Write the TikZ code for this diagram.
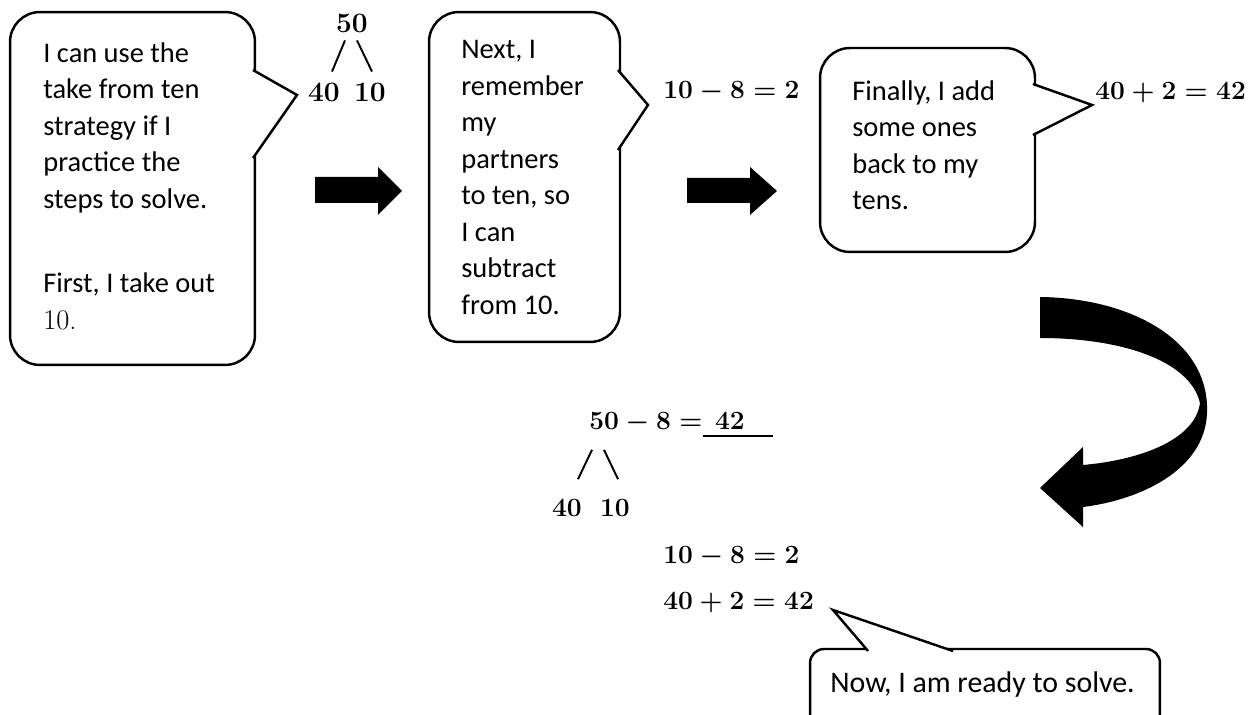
\RequirePackage{fix-cm}
\documentclass[tikz,border=0pt]{standalone}
\usepackage{fontspec}
\newfontfamily\calibri{Carlito}
\usetikzlibrary{calc}

\begin{document}
\begin{tikzpicture}[
    x=0.02cm, y=-0.02cm,
    bubble/.style={rectangle, draw=black, line width=1.4pt, fill=white,
                rounded corners=0.6cm, outer sep=0pt, inner sep=0pt},
    tail/.style={draw=black, line width=1.4pt, fill=white, line join=miter},
    say/.style={anchor=north west, align=left, inner sep=0pt,
                font=\calibri\fontsize{16.2}{20.8}\selectfont},
    num/.style={inner sep=0pt, font=\fontsize{15}{18}\selectfont\boldmath},
    bignum/.style={num, font=\fontsize{16}{19}\selectfont\boldmath},
    branch/.style={line width=1.1pt}
]
    \path[use as bounding box, fill=white] (0,0) rectangle (1255,715);
    \clip (0,0) rectangle (1255,715);

    % take out ten
    \node[bubble, minimum width=4.9cm, minimum height=7.06cm] (box1) at (132.5,188.5) {};
    \coordinate (tip1) at (297,95);
    \draw[tail] ($(box1.north east)+(-2,58)$) -- (tip1) -- ($(box1.north east)+(-2,146)$);
    \node[say] (say1) at (43,42) {I can use the\\take from ten\\strategy if I\\practice the\\steps to solve.\\[27.4pt]First, I take out\\{\rmfamily 10.}};

    \node[bignum] (t50) at (352,23) {$50$};
    \node[bignum] (t40) at (324,92) {$40$};
    \node[bignum] (t10) at (370,92) {$10$};
    \draw[branch] ($(t50.south)+(-7,8)$) -- ($(t40.north)+(8,-11)$);
    \draw[branch] ($(t50.south)+(5,8)$) -- ($(t10.north)+(2,-11)$);

    \fill (315,177) -- (378,177) -- (378,167) -- (402,191) -- (378,215) -- (378,203) -- (315,203) -- cycle;

    % partners to ten
    \node[bubble, minimum width=3.82cm, minimum height=6.6cm] (box2) at (524.5,177) {};
    \coordinate (tip2) at (648,105);
    \draw[tail] ($(box2.north east)+(-2,58)$) -- (tip2) -- ($(box2.north east)+(-2,138)$);
    \node[say] (say2) at (461,40) {Next, I\\remember\\my\\partners\\to ten, so\\I can\\subtract\\from 10.};
    \node[num, anchor=west] (q1) at (663,92) {$10-8=2$};

    \fill (687,178) -- (750,178) -- (750,167) -- (777,191) -- (750,215) -- (750,203) -- (687,203) -- cycle;

    % add back
    \node[bubble, minimum width=4.3cm, minimum height=4.08cm] (box3) at (927.5,150) {};
    \coordinate (tip3) at (1092,105);
    \draw[tail] ($(box3.north east)+(-2,36)$) -- (tip3) -- ($(box3.north east)+(-2,87)$);
    \node[say] (say3) at (852,80) {Finally, I add\\some ones\\back to my\\tens.};
    \node[num, anchor=west] (q2) at (1095,93) {$40+2=42$};

    \fill (1040,297) .. controls (1130,298) and (1210,340) .. (1207,413)
          .. controls (1205,470) and (1140,500) .. (1083,507)
          -- (1083,527) -- (1040,488) -- (1083,447) -- (1083,465)
          .. controls (1140,460) and (1195,440) .. (1200,403)
          .. controls (1190,360) and (1120,338) .. (1040,338) -- cycle;

    % worked problem
    \node[num, anchor=base west] (beq) at (589,430) {$50-8=$};
    \node[num, anchor=base west] (bans) at ($(beq.base east)+(12,0)$) {$42$};
    \draw[branch] ($(beq.base east)+(0,6)$) -- ($(bans.base east)+(28,6)$);
    \node[num] (b40) at (567,508) {$40$};
    \node[num] (b10) at (615,508) {$10$};
    \draw[branch] ($(beq.south west)+(3,16)$) -- ($(b40.north)+(11,-20)$);
    \draw[branch] ($(beq.south west)+(15,16)$) -- ($(b10.north)+(3,-20)$);
    \node[num, anchor=west] (e1) at (663,557) {$10-8=2$};
    \node[num, anchor=west] (e2) at (663,603) {$40+2=42$};

    \node[bubble, rounded corners=0.28cm, minimum width=7cm, minimum height=2cm] (box4) at (985,699) {};
    \coordinate (tip4) at (833,610);
    \draw[tail] ($(box4.north west)+(58,2)$) -- (tip4) -- ($(box4.north west)+(143,2)$);
    \node[say, anchor=base west, font=\calibri\fontsize{17}{20}\selectfont] (say4) at (830,693) {Now, I am ready to solve.};
\end{tikzpicture}
\end{document}
